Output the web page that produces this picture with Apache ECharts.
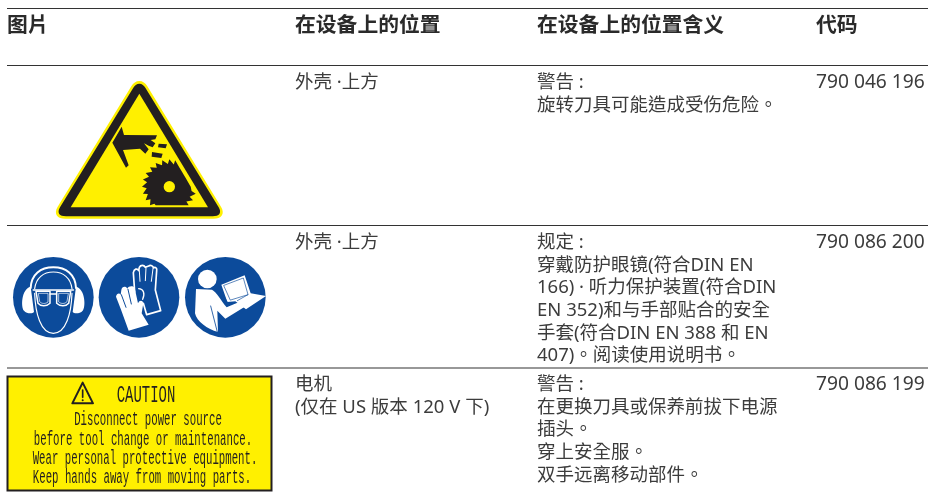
<!DOCTYPE html>
<html>
<head>
<meta charset="utf-8">
<style>html,body{margin:0;padding:0;background:#fff}#main{width:928px;height:495px}</style>
<script src="https://cdn.jsdelivr.net/npm/echarts@6/dist/echarts.min.js"></script>
</head>
<body>
<div id="main"></div>
<script>
// table content
const headers = ['图片', '在设备上的位置', '在设备上的位置含义', '代码']
const positions = [
  ['外壳 ·上方'],
  ['外壳 ·上方'],
  ['电机', '(仅在 US 版本 120 V 下)'],
]
const meanings = [
  ['警告 :', '旋转刀具可能造成受伤危险。'],
  ['规定 :', '穿戴防护眼镜(符合DIN EN', '166) · 听力保护装置(符合DIN', 'EN 352)和与手部贴合的安全', '手套(符合DIN EN 388 和 EN', '407)。阅读使用说明书。'],
  ['警告 :', '在更换刀具或保养前拔下电源', '插头。', '穿上安全服。', '双手远离移动部件。'],
]
const codes = ['790 046 196', '790 086 200', '790 086 199']
const cautionTitle = 'CAUTION'
const cautionLines = [
  'Disconnect power source',
  'before tool change or maintenance.',
  'Wear personal protective equipment.',
  'Keep hands away from moving parts.',
]

const chart = echarts.init(document.getElementById('main'))

const FONT = '"Noto Sans", "Noto Sans CJK TC", sans-serif'
const INK = '#3c3c3c'
const YELLOW = '#FFF000'
const BLACK = '#231F20'
const BLUE = '#0C4B9B'
const colX = [7, 295, 537, 816]
const ruleY = [8.5, 65.5, 225.5, 368]
const rowY = [83, 243, 385]
const LINE_H = 22.6

const elements = []

const rule = y => elements.push({
  type: 'line',
  shape: { x1: 7, y1: y, x2: 928, y2: y },
  style: { stroke: '#333', lineWidth: 1.2 },
})
const label = (x, y, text, size, weight, color) => elements.push({
  type: 'text', x, y,
  style: { text, fill: color || INK, font: `${weight || 'normal'} ${size}px ${FONT}`, textAlign: 'left', textVerticalAlign: 'middle' },
})

ruleY.forEach(rule)
headers.forEach((h, i) => label(colX[i], 26, h, 20.8, 'bold', '#2a2a2a'))
positions.forEach((lines, r) => lines.forEach((l, i) => label(colX[1], rowY[r] + i * LINE_H, l, 18.5, 'normal')))
meanings.forEach((lines, r) => lines.forEach((l, i) => label(colX[2], rowY[r] + i * LINE_H, l, 18.5, 'normal')))
codes.forEach((c, r) => label(colX[3], rowY[r], c, 19.2, 'normal'))

// pictograms are drawn in crop coordinates at 3x, so the group scales them down
const icon = (x, y, children) => elements.push({ type: 'group', x, y, scaleX: 1 / 3, scaleY: 1 / 3, children })
const path = (d, fill, stroke, w) => ({
  type: 'path',
  shape: { pathData: d },
  style: { fill: fill || 'none', stroke: stroke || 'none', lineWidth: w || 0, lineJoin: 'round', lineCap: 'round' },
})
const disc = (cx, cy, r, fill) => ({ type: 'circle', shape: { cx, cy, r }, style: { fill } })

// saw blade outline, clipped along the bottom and the right edge of the sign
const sawPath = () => {
  const cx = 508, cy = 380, teeth = 24
  const pts = []
  for (let i = 0; i < teeth; i++) {
    const a = (i / teeth) * Math.PI * 2
    const b = ((i + 0.75) / teeth) * Math.PI * 2
    pts.push([cx + 82 * Math.cos(a), cy + 82 * Math.sin(a)])
    pts.push([cx + 68 * Math.cos(b), cy + 68 * Math.sin(b)])
  }
  const clipped = pts.map(([x, y]) => {
    let nx = x, ny = Math.min(y, 436)
    const limit = 525 + (ny - 300) * (56 / 95)
    if (nx > limit && ny < 395) nx = limit
    return [nx, ny]
  })
  return 'M' + clipped.map(p => p[0].toFixed(1) + ' ' + p[1].toFixed(1)).join(' L') + ' Z'
}

icon(0, 60, [
  path('M418 63 C408 63 400 69 394 79 L173 440 C160 462 172 476 196 476 L640 476 C664 476 676 462 663 440 L442 79 C436 69 428 63 418 63 Z', YELLOW),
  path('M418 71 C410 71 404 76 400 83 L180 442 C170 459 178 469 198 469 L638 469 C658 469 666 459 656 442 L436 83 C432 76 426 71 418 71 Z', BLACK),
  path('M418 101 L212 442 L624 442 Z', YELLOW),
  path('M337 248 L365 200 L372 225 L471 226 L466 238 L452 240 L466 250 L458 262 L446 257 L432 250 L446 268 L436 281 L420 266 L369 270 L386 316 L378 323 Z', BLACK),
  path('M476 251 L501 253 L497 265 L474 262 Z', BLACK),
  path('M456 276 L488 281 L484 294 L455 290 Z', BLACK),
  path(sawPath(), BLACK),
  disc(508, 380, 17, YELLOW),
])

const W = '#fff'
icon(0, 250, [
  disc(160, 142, 121, BLUE),
  disc(417, 142, 121, BLUE),
  disc(676, 142, 121, BLUE),
  // ear defenders and goggles
  path('M92 110 C64 116 62 172 72 182 C80 192 98 192 102 186 Z', W),
  path('M228 110 C256 116 258 172 248 182 C240 192 222 192 218 186 Z', W),
  path('M92 114 C94 72 122 52 160 52 C198 52 226 72 228 114', null, W, 6),
  path('M104 116 C108 84 130 66 160 66 C190 66 212 84 216 116', null, W, 3.5),
  path('M104 130 C106 190 122 250 160 250 C198 250 214 190 216 130', null, W, 3.5),
  path('M100 120 L220 120', null, W, 5),
  path('M108 124 L150 124 L150 160 C140 170 122 170 114 160 Z', null, W, 4.5),
  path('M212 124 L170 124 L170 160 C180 170 198 170 206 160 Z', null, W, 4.5),
  path('M116 130 L144 130 L144 156 C136 162 126 162 120 156 Z', null, W, 2),
  path('M204 130 L176 130 L176 156 C184 162 194 162 200 156 Z', null, W, 2),
  path('M150 132 L170 132', null, W, 4),
  // gloves
  path('M404 126 L400 68 C402 56 412 54 416 62 L418 52 C422 44 432 44 436 52 L446 48 C452 44 460 48 460 54 C466 50 472 54 470 62 L466 120 L482 182 L440 194 L430 160', null, W, 5),
  path('M418 62 L420 94 M438 54 L436 92 M459 56 L454 94', null, W, 3),
  path('M348 140 C350 130 358 128 362 134 L364 120 C366 108 378 108 382 116 C386 106 402 108 404 114 L414 160 C418 150 428 150 430 160 L425 190 L446 224 L386 242 L362 176 Z', W),
  path('M364 134 L378 172 M384 118 L394 162', null, BLUE, 3),
  path('M416 116 C430 116 436 130 428 148', null, W, 4),
  // person reading
  disc(622, 87, 28, W),
  path('M588 117 L636 119 C650 126 662 150 680 172 L732 150 C744 150 742 166 732 172 L676 206 L652 182 L654 246 C622 238 590 214 585 190 Z', W),
  path('M632 168 L652 246', null, BLUE, 2.5),
  path('M664 104 L734 76 L752 130 L798 138 L738 178 L706 154 L682 156 Z', W),
  path('M672 106 L730 84 L744 134 L692 150 Z', null, BLUE, 2),
  path('M664 124 L684 160 M744 134 L712 152', null, BLUE, 2),
])

// caution label
elements.push({ type: 'rect', shape: { x: 7.5, y: 376.5, width: 264, height: 114 }, style: { fill: YELLOW, stroke: BLACK, lineWidth: 2 } })
icon(0, 370, [
  path('M248 38 L217 100 L279 100 Z', null, BLACK, 6),
  path('M248 60 L248 82', null, BLACK, 5),
  disc(248, 91, 3, BLACK),
])
const mono = (x, y, text, size, sx) => elements.push({
  type: 'text', x, y, scaleX: sx, scaleY: 1,
  style: { text, fill: BLACK, font: `${size}px "Liberation Mono", monospace`, textAlign: 'center', textVerticalAlign: 'bottom' },
})
mono(146, 408, cautionTitle, 24, 0.58)
const cautionX = [148, 143, 145, 142]
const cautionBase = [430, 449.5, 468.5, 488]
cautionLines.forEach((l, i) => mono(cautionX[i], cautionBase[i], l, 20, 0.535))

chart.setOption({
  animation: false,
  backgroundColor: '#fff',
  series: [{
    type: 'custom',
    coordinateSystem: 'none',
    silent: true,
    clip: false,
    data: [0],
    renderItem: () => ({ type: 'group', children: elements }),
  }],
})
</script>
</body>
</html>
